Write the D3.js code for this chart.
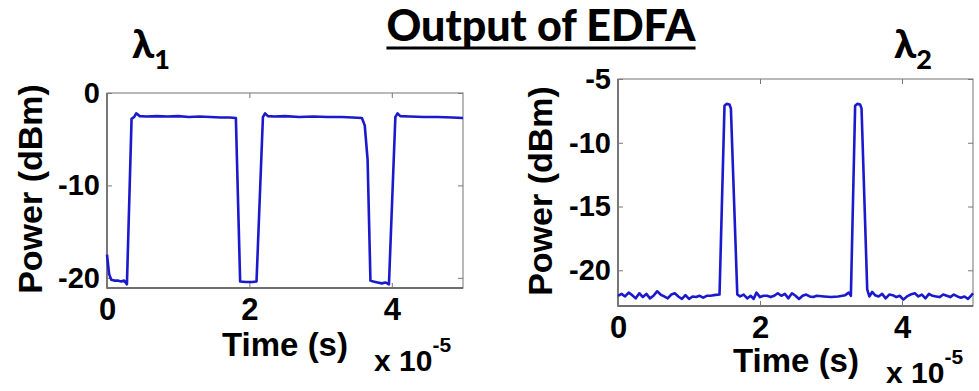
<!DOCTYPE html>
<html>
<head>
<meta charset="utf-8">
<script src="https://cdn.jsdelivr.net/npm/d3@7/dist/d3.min.js"></script>
<style>
	html, body { margin: 0; padding: 0; background: #fff; }
	svg { display: block; }
	.tick text { font-family: "Liberation Sans", Arial, sans-serif; font-weight: bold; fill: #000; }
</style>
</head>
<body>
<svg id="chart" width="979" height="391"></svg>
<script>
// time in units of 1e-5 s, power in dBm
const lambda1Time = [0, 0.03, 0.06, 0.1, 0.15, 0.2, 0.24, 0.28, 0.345, 0.38, 0.41, 0.46, 0.55, 0.7, 0.85, 1.0, 1.15, 1.3, 1.45, 1.6, 1.72, 1.81,
	1.87, 1.95, 2.04, 2.1, 2.19, 2.22, 2.26, 2.35, 2.5, 2.7, 2.9, 3.1, 3.3, 3.45, 3.58, 3.62, 3.66, 3.70,
	3.74, 3.8, 3.86, 3.91, 3.96, 4.05, 4.08, 4.12, 4.25, 4.45, 4.65, 4.85, 5.0];
const lambda1Power = [-17.5, -19.6, -20.2, -20.3, -20.3, -20.4, -20.3, -20.7, -2.8, -2.6, -2.2, -2.5, -2.55, -2.5, -2.55, -2.5, -2.6, -2.55, -2.6, -2.65, -2.65, -2.7,
	-20.4, -20.45, -20.45, -20.4, -2.6, -2.2, -2.5, -2.55, -2.5, -2.6, -2.55, -2.6, -2.6, -2.65, -2.7, -3.5, -7.2, -20.3,
	-20.4, -20.5, -20.6, -20.5, -20.7, -2.6, -2.2, -2.5, -2.55, -2.6, -2.6, -2.65, -2.7];

const lambda2Time = [0, 0.05, 0.1, 0.15, 0.2, 0.25, 0.3, 0.35, 0.4, 0.45, 0.5, 0.55, 0.6, 0.65, 0.7, 0.75, 0.8, 0.85, 0.9, 0.95,
	1.0, 1.05, 1.1, 1.15, 1.2, 1.25, 1.3, 1.35, 1.43, 1.5, 1.53, 1.57, 1.59, 1.68, 1.72, 1.77, 1.82, 1.87, 1.91, 1.95,
	2.0, 2.05, 2.1, 2.15, 2.2, 2.25, 2.3, 2.35, 2.4, 2.45, 2.5, 2.55, 2.6, 2.65, 2.7, 2.75, 2.8, 2.9, 3.0, 3.1, 3.2, 3.25,
	3.28, 3.34, 3.37, 3.41, 3.43, 3.51, 3.54, 3.58, 3.62, 3.67, 3.72, 3.77, 3.82, 3.87, 3.92, 3.97, 4.02, 4.07, 4.12,
	4.18, 4.23, 4.28, 4.33, 4.38, 4.43, 4.48, 4.53, 4.58, 4.63, 4.68, 4.73, 4.78, 4.83, 4.88, 4.93, 4.97, 5.0];
const lambda2Power = [-22.0, -21.85, -22.05, -21.75, -21.95, -22.2, -21.8, -22.1, -21.85, -22.2, -22.0, -21.65, -21.9, -22.05, -22.2, -21.9, -21.8, -22.05, -22.25, -21.95,
	-22.25, -22.05, -22.1, -22.0, -22.15, -22.0, -22.0, -21.95, -21.9, -7.1, -6.95, -7.0, -7.3, -21.9, -22.05, -21.9, -22.2, -22.0, -22.25, -21.75,
	-22.1, -22.0, -22.0, -22.1, -22.0, -21.8, -22.0, -21.85, -22.2, -21.8, -22.0, -22.25, -22.0, -21.9, -22.05, -22.1, -22.0, -22.05, -22.1, -22.05, -21.95, -21.75,
	-22.0, -7.1, -6.95, -7.0, -7.3, -21.5, -22.05, -21.7, -21.95, -22.05, -21.85, -22.2, -21.9, -21.95, -22.1, -22.0, -22.3, -22.05, -21.9,
	-21.8, -22.05, -21.9, -22.2, -21.85, -22.0, -22.05, -22.1, -21.9, -22.0, -22.1, -21.9, -22.05, -22.15, -22.05, -22.25, -22.0, -21.8];

const xTicks = [0, 2, 4];
const lambda1YTicks = [-20, -10, 0];
const lambda2YTicks = [-20, -15, -10, -5];

const svg = d3.select("#chart");
const lineColor = "#1a1acc";
const fmt = d => String(d);

function drawPanel(opts) {
	const x = d3.scaleLinear().domain([0, 5]).range([opts.left, opts.right]);
	const y = d3.scaleLinear().domain(opts.yDomain).range([opts.bottom, opts.top]);
	const g = svg.append("g");

	// frame
	g.append("rect")
		.attr("x", opts.left).attr("y", opts.top)
		.attr("width", opts.right - opts.left).attr("height", opts.bottom - opts.top)
		.attr("fill", "none").attr("stroke", "#8a8a8a").attr("stroke-width", 1.2);
	g.append("path")
		.attr("d", `M${opts.left},${opts.top}V${opts.bottom}H${opts.right}`)
		.attr("fill", "none").attr("stroke", "#555").attr("stroke-width", 1.3);

	const xAxis = g.append("g")
		.attr("transform", `translate(0,${opts.bottom})`)
		.call(d3.axisBottom(x).tickValues(xTicks).tickFormat(fmt).tickSizeInner(-5).tickSizeOuter(0).tickPadding(10));
	xAxis.selectAll("text").style("font-size", "31px").attr("dy", "0.71em");

	g.append("g")
		.attr("transform", `translate(0,${opts.top})`)
		.call(d3.axisTop(x).tickValues(xTicks).tickSizeInner(-5).tickSizeOuter(0).tickFormat(""));

	const yAxis = g.append("g")
		.attr("transform", `translate(${opts.left},0)`)
		.call(d3.axisLeft(y).tickValues(opts.yTicks).tickFormat(fmt).tickSizeInner(-5).tickSizeOuter(0).tickPadding(7));
	yAxis.selectAll("text").style("font-size", "29px");

	g.append("g")
		.attr("transform", `translate(${opts.right},0)`)
		.call(d3.axisRight(y).tickValues(opts.yTicks).tickSizeInner(-5).tickSizeOuter(0).tickFormat(""));

	g.selectAll(".domain").remove();
	g.selectAll(".tick line").attr("stroke", "#777");

	const line = d3.line()
		.x((d, i) => x(opts.time[i]))
		.y(d => y(d));

	g.append("path")
		.datum(opts.power)
		.attr("fill", "none")
		.attr("stroke", lineColor)
		.attr("stroke-width", 2.6)
		.attr("stroke-linejoin", "round")
		.attr("d", line);

	// axis labels
	g.append("text")
		.attr("x", opts.xLabel[0]).attr("y", opts.xLabel[1])
		.attr("text-anchor", "middle")
		.style("font-family", "Liberation Sans, Arial, sans-serif")
		.style("font-weight", "bold").style("font-size", "33px")
		.text("Time (s)");

	const mult = g.append("text")
		.attr("x", opts.mult[0]).attr("y", opts.mult[1])
		.style("font-family", "Liberation Sans, Arial, sans-serif")
		.style("font-weight", "bold").style("font-size", "30px");
	mult.append("tspan").text("x 10");
	mult.append("tspan").attr("dy", -19).style("font-size", "21px").text("-5");

	g.append("text")
		.attr("transform", `translate(${opts.yLabel[0]},${opts.yLabel[1]}) rotate(-90)`)
		.attr("text-anchor", "middle")
		.style("font-family", "Liberation Sans, Arial, sans-serif")
		.style("font-weight", "bold").style("font-size", "34px")
		.text("Power (dBm)");

	const lam = g.append("text")
		.attr("x", opts.lambda[0]).attr("y", opts.lambda[1])
		.style("font-family", "Lato, 'Open Sans', sans-serif")
		.style("font-weight", "900").style("font-size", "40px");
	lam.append("tspan").text("λ");
	lam.append("tspan").attr("dy", 11).style("font-size", "27px").text(opts.sub);
}

drawPanel({
	left: 107, right: 463, top: 93, bottom: 288,
	yDomain: [-21.1, 0], yTicks: lambda1YTicks,
	time: lambda1Time, power: lambda1Power,
	xLabel: [285, 356], mult: [374, 371], yLabel: [42, 189],
	lambda: [132, 58], sub: "1"
});

drawPanel({
	left: 618, right: 973, top: 79, bottom: 306,
	yDomain: [-22.8, -5], yTicks: lambda2YTicks,
	time: lambda2Time, power: lambda2Power,
	xLabel: [796, 372], mult: [886, 383], yLabel: [552, 191],
	lambda: [894, 58], sub: "2"
});

// title
const title = svg.append("text")
	.attr("x", 541).attr("y", 41)
	.attr("text-anchor", "middle")
	.style("font-family", "Lato, 'Open Sans', sans-serif")
	.style("font-weight", "900").style("font-size", "43px")
	.text("Output of EDFA");
const tw = title.node().getComputedTextLength();
svg.append("line")
	.attr("x1", 541 - tw / 2).attr("x2", 541 + tw / 2)
	.attr("y1", 48).attr("y2", 48)
	.attr("stroke", "#000").attr("stroke-width", 3);
</script>
</body>
</html>
